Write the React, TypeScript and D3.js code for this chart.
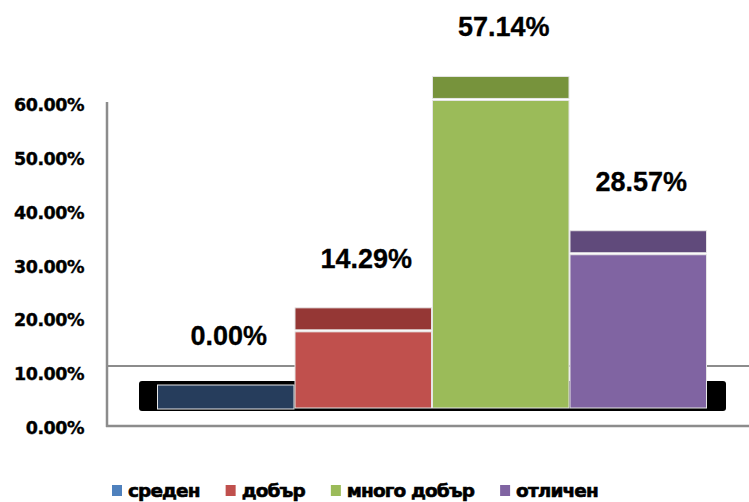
import React, { useRef, useEffect } from 'react';
import * as d3 from 'd3';

// grades and their share
const categories = ['среден', 'добър', 'много добър', 'отличен'];
const shares = [0, 0.1429, 0.5714, 0.2857];
const tickValues = [0, 0.1, 0.2, 0.3, 0.4, 0.5, 0.6];

const frontColors = ['#263d5c', '#c0504d', '#9bbb59', '#8064a2'];
const capColors = ['#263d5c', '#953735', '#77933c', '#604a7b'];
const legendColors = ['#4f81bd', '#c0504d', '#9bbb59', '#8064a2'];

const W = 749;
const H = 502;

const App = () => {
    const svgRef = useRef<SVGSVGElement>(null);

    useEffect(() => {
        if (!svgRef.current) return;
        const svg = d3.select(svgRef.current);
        svg.selectAll('*').remove();

        const capH = 23;
        const x = d3.scaleBand().domain(categories).range([157, 707]).padding(0);
        const yBar = d3.scaleLinear().domain([0, 0.6]).range([408, 84]);
        const yAxis = d3.scaleLinear().domain([0, 0.6]).range([428, 105]);

        // back floor edge
        svg.append('line')
            .attr('x1', 107).attr('x2', W).attr('y1', 366).attr('y2', 366)
            .attr('stroke', '#8c8c8c').attr('stroke-width', 2);

        // dark floor slab behind the bars
        svg.append('rect')
            .attr('x', 139).attr('y', 381).attr('width', 587).attr('height', 30)
            .attr('rx', 3).attr('fill', '#000');

        // bars: front face + top cap
        const g = svg.append('g');
        categories.forEach((c, i) => {
            const v = shares[i];
            const x0 = x(c)!;
            const bw = x.bandwidth();
            const top = yBar(v);
            if (v > 0) {
                g.append('rect')
                    .attr('x', x0 + 0.5).attr('y', top + 1)
                    .attr('width', bw - 1).attr('height', yBar(0) - top - 1)
                    .attr('fill', frontColors[i])
                    .attr('stroke', '#e6e6e6').attr('stroke-width', 1);
            }
            g.append('rect')
                .attr('x', x0 + 0.5).attr('y', top - capH)
                .attr('width', bw - 1).attr('height', v > 0 ? capH - 1 : capH + 1)
                .attr('fill', capColors[i])
                .attr('stroke', '#e6e6e6').attr('stroke-width', 1);

            // value label
            svg.append('text')
                .attr('x', x0 + bw / 2 + 3)
                .attr('y', top - capH - 40)
                .attr('text-anchor', 'middle')
                .attr('font-family', '"Liberation Sans", Arial, sans-serif')
                .attr('font-weight', 'bold')
                .attr('font-size', 27)
                .attr('fill', '#000')
                .attr('stroke', '#000').attr('stroke-width', 0.3)
                .text(d3.format('.2%')(v));
        });

        // y axis
        svg.append('g')
            .attr('transform', 'translate(84,0)')
            .call(d3.axisLeft(yAxis).tickValues(tickValues).tickSize(0).tickPadding(0).tickFormat(d3.format('.2%')))
            .call(s => s.select('.domain').remove())
            .call(s => s.selectAll('.tick text')
                .attr('fill', '#000')
                .attr('stroke', '#000').attr('stroke-width', 0.35)
                .attr('font-family', '"DejaVu Sans", Verdana, sans-serif')
                .attr('font-weight', 'bold')
                .attr('font-size', 17.5)
                .attr('letter-spacing', -0.5));

        svg.append('line')
            .attr('x1', 107).attr('x2', 107).attr('y1', 102).attr('y2', 427)
            .attr('stroke', '#8c8c8c').attr('stroke-width', 2.5);
        svg.append('line')
            .attr('x1', 106).attr('x2', W).attr('y1', 426).attr('y2', 426)
            .attr('stroke', '#8c8c8c').attr('stroke-width', 2.5);

        // legend
        const lg = svg.append('g');
        let lx = 112;
        categories.forEach((c, i) => {
            lg.append('rect')
                .attr('x', lx).attr('y', 485).attr('width', 10).attr('height', 11)
                .attr('fill', legendColors[i]);
            const t = lg.append('text')
                .attr('x', lx + 16).attr('y', 497)
                .attr('font-family', '"DejaVu Sans", Verdana, sans-serif')
                .attr('font-weight', 'bold')
                .attr('font-size', 18.5)
                .attr('letter-spacing', -0.9)
                .attr('fill', '#000')
                .attr('stroke', '#000').attr('stroke-width', 0.6)
                .text(c);
            const tw = (t.node() as SVGTextElement).getComputedTextLength();
            lx = lx + 16 + tw + 26;
        });
    }, []);

    return (
        <svg
            ref={svgRef}
            width={W}
            height={H}
            style={{ position: 'absolute', left: 0, top: 0, background: '#fff' }}
        />
    );
};

export default App;
